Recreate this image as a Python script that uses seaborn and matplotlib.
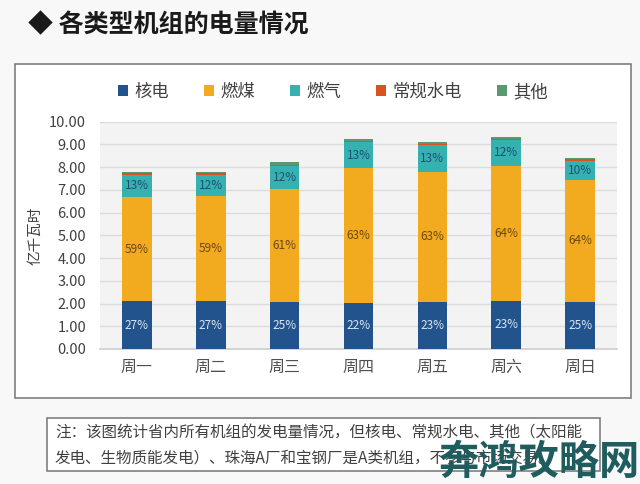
import numpy as np
import pandas as pd
import matplotlib
matplotlib.use("Agg")
import matplotlib.pyplot as plt
from matplotlib.patches import Rectangle, Patch
import seaborn as sns

# ---- data ----
days = ['周一', '周二', '周三', '周四', '周五', '周六', '周日']
nuclear = [2.10, 2.10, 2.05, 2.04, 2.08, 2.12, 2.08]
coal = [4.58, 4.62, 4.98, 5.92, 5.72, 5.94, 5.36]
gas = [0.99, 0.95, 1.02, 1.14, 1.16, 1.14, 0.84]
hydro = [0.06, 0.06, 0.06, 0.06, 0.06, 0.05, 0.06]
other = [0.06, 0.07, 0.10, 0.08, 0.08, 0.06, 0.06]
nuclear_pct = ['27%', '27%', '25%', '22%', '23%', '23%', '25%']
coal_pct = ['59%', '59%', '61%', '63%', '63%', '64%', '64%']
gas_pct = ['13%', '12%', '12%', '13%', '13%', '12%', '10%']
series_names = ['核电', '燃煤', '燃气', '常规水电', '其他']
yticks = [0, 1, 2, 3, 4, 5, 6, 7, 8, 9, 10]

colors = ['#22538c', '#f2aa1f', '#35b2b0', '#d9521f', '#5b9770']

sns.set_theme(style="white")
plt.rcParams['font.family'] = ['Noto Sans CJK SC', 'DejaVu Sans']

fig = plt.figure(figsize=(6.4, 4.84), dpi=100, facecolor='#f8f8f8')
W, H = 640, 484

def fx(px):
    return px / W

def fy(py):
    return 1 - py / H

# chart frame
fig.patches.append(Rectangle((fx(15), fy(398)), fx(631) - fx(15), fy(64) - fy(398),
                             transform=fig.transFigure, facecolor='white',
                             edgecolor='#7f7f7f', linewidth=1.2, zorder=-5))
# note frame
fig.patches.append(Rectangle((fx(47), fy(471)), fx(600) - fx(47), fy(418) - fy(471),
                             transform=fig.transFigure, facecolor='white',
                             edgecolor='#7f7f7f', linewidth=1.2, zorder=-5))

ax = fig.add_axes([fx(100), fy(349), fx(617) - fx(100), fy(121.7) - fy(349)])
ax.set_zorder(2)
ax.set_facecolor('#f3f3f3')

layers = [nuclear, coal, gas, hydro, other]
bottom = np.zeros(len(days))
for vals, c in zip(layers, colors):
    d = pd.DataFrame({'day': days, 'v': vals})
    sns.barplot(data=d, x='day', y='v', order=days, color=c, width=0.4,
                bottom=bottom.copy(), ax=ax, saturation=1, linewidth=0, zorder=3)
    bottom = bottom + np.array(vals)

n = np.array(nuclear)
c_ = np.array(coal)
g = np.array(gas)
for i in range(len(days)):
    ax.text(i, n[i] / 2, nuclear_pct[i], ha='center', va='center',
            fontsize=8.5, color='#d8e6f5', zorder=5)
    ax.text(i, n[i] + c_[i] / 2, coal_pct[i], ha='center', va='center',
            fontsize=8.5, color='#6a4a12', zorder=5)
    ax.text(i, n[i] + c_[i] + g[i] / 2, gas_pct[i], ha='center', va='center',
            fontsize=8.5, color='#1f4e79', zorder=5)

ax.set_xlim(-0.5, len(days) - 0.5)
ax.set_ylim(0, 10)
ax.set_yticks(yticks)
ax.set_yticklabels([f'{v:.2f}' for v in yticks])
ax.yaxis.grid(True, color='#dcdcdc', linewidth=1, zorder=0)
ax.set_axisbelow(True)
ax.tick_params(axis='y', labelsize=10.5, colors='#404040', length=0, pad=10)
ax.tick_params(axis='x', labelsize=11.5, colors='#505050', length=0, pad=7)
ax.set_xlabel('')
ax.set_ylabel('')
for s in ['top', 'right', 'left']:
    ax.spines[s].set_visible(False)
ax.spines['bottom'].set_color('#d0d0d0')

fig.text(fx(35), fy(236), '亿千瓦时', rotation=90, ha='center', va='center',
         fontsize=10.5, color='#404040')

handles = [Patch(facecolor=c, edgecolor='none') for c in colors]
fig.legend(handles, series_names, loc='center', bbox_to_anchor=(fx(333), fy(92)),
           ncol=5, frameon=False, fontsize=12.5, handlelength=0.6, handleheight=0.6,
           handletextpad=0.35, columnspacing=2.0, labelcolor='#404040')

fig.text(fx(28), fy(25), '◆ 各类型机组的电量情况', ha='left', va='center',
         fontsize=18, fontweight='bold', color='#1a1a1a')

fig.text(fx(55), fy(433), '注：该图统计省内所有机组的发电量情况，但核电、常规水电、其他（太阳能',
         ha='left', va='center', fontsize=11.2, color='#404040')
fig.text(fx(55), fy(458), '发电、生物质能发电）、珠海A厂和宝钢厂是A类机组，不参与市场交易。',
         ha='left', va='center', fontsize=11.2, color='#404040')

fig.text(fx(640), fy(462), '奔鸿攻略网', ha='right', va='center', fontsize=29,
         fontweight='bold', color='#1f5c5e')

fig.savefig('out.png', dpi=100, facecolor=fig.get_facecolor())
